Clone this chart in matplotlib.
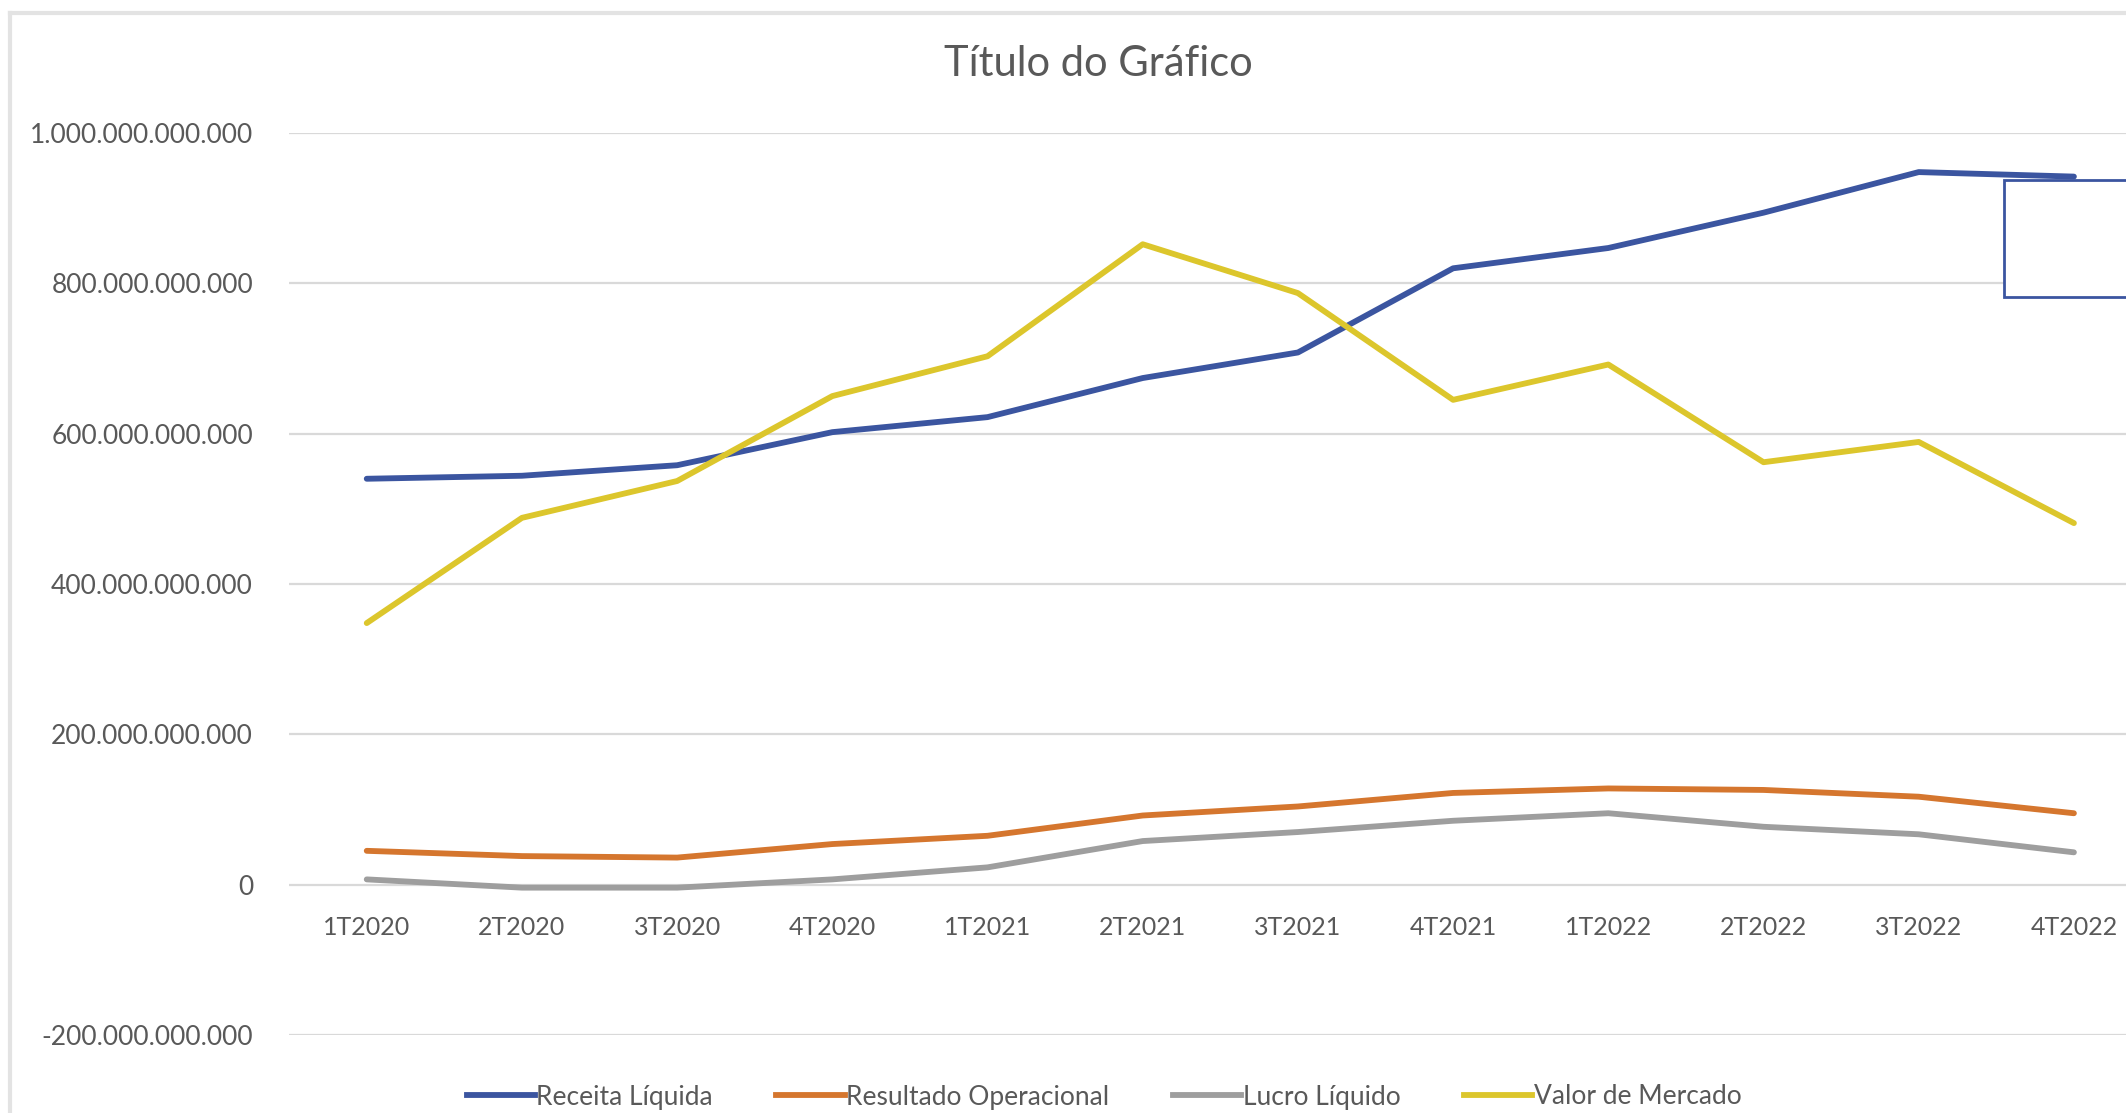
import matplotlib.pyplot as plt
import matplotlib.transforms as mtransforms
from matplotlib.patches import Rectangle
from matplotlib.lines import Line2D

plt.rcParams['font.family'] = ['Lato', 'DejaVu Sans']

# Dados (em bilhões)
trimestres = ["1T2020", "2T2020", "3T2020", "4T2020", "1T2021", "2T2021",
              "3T2021", "4T2021", "1T2022", "2T2022", "3T2022", "4T2022"]
receita_liquida = [540, 544, 558, 602, 622, 674, 708, 820, 847, 894, 948, 942]
resultado_operacional = [45, 38, 36, 54, 65, 92, 104, 122, 128, 126, 117, 95]
lucro_liquido = [7, -4, -4, 7, 23, 58, 70, 85, 95, 77, 67, 43]
valor_mercado = [348, 488, 537, 650, 703, 852, 787, 645, 692, 562, 589, 481]

series = [
    ("Receita Líquida", receita_liquida, "#3B55A0"),
    ("Resultado Operacional", resultado_operacional, "#D5762E"),
    ("Lucro Líquido", lucro_liquido, "#9E9E9E"),
    ("Valor de Mercado", valor_mercado, "#DCC62C"),
]

fig = plt.figure(figsize=(21.26, 11.13), dpi=100)
ax = fig.add_axes([0.136, 0.0701, 0.876, 0.8104])

x = list(range(len(trimestres)))
for nome, valores, cor in series:
    ax.plot(x, [v * 1e9 for v in valores], color=cor, linewidth=4.2,
            solid_capstyle='round', label=nome, zorder=3)

ax.set_xlim(-0.5, len(trimestres) - 0.5)
ax.set_ylim(-200e9, 1000e9)
yticks = [-200e9, 0, 200e9, 400e9, 600e9, 800e9, 1000e9]
ax.set_yticks(yticks)
ax.set_yticklabels([f"{v:,.0f}".replace(",", ".") for v in yticks])
ax.set_xticks(x)
ax.set_xticklabels(trimestres)
ax.tick_params(axis='both', length=0, labelsize=18, labelcolor="#595959")
ax.tick_params(axis='y', labelsize=19, pad=26)
ax.tick_params(axis='x', pad=23)
ax.grid(axis='y', color="#D9D9D9", linewidth=1.6, zorder=0)
for s in ax.spines.values():
    s.set_visible(False)

# rótulos do eixo x logo abaixo da linha do zero
subir = mtransforms.ScaledTranslation(0, 151 / 100, fig.dpi_scale_trans)
for lbl in ax.get_xticklabels():
    lbl.set_transform(lbl.get_transform() + subir)

fig.text(1098 / 2126, 1 - 64 / 1113, "Título do Gráfico", ha='center', va='center',
         fontsize=30, color="#595959")

handles = [Line2D([0], [0], color=c, linewidth=4.2) for _, _, c in series]
fig.legend(handles, [n for n, _, _ in series], loc='center',
           bbox_to_anchor=(1104 / 2126, 1 - 1097 / 1113), ncol=4, frameon=False,
           fontsize=19, labelcolor="#595959", handlelength=2.6, handletextpad=0.05,
           columnspacing=2.4)

# borda do gráfico
fig.add_artist(Line2D([10 / 2126, 1], [1 - 13 / 1113, 1 - 13 / 1113],
                      transform=fig.transFigure, color="#E3E3E3", linewidth=3))
fig.add_artist(Line2D([10 / 2126, 10 / 2126], [0, 1 - 13 / 1113],
                      transform=fig.transFigure, color="#E3E3E3", linewidth=3))

# caixa azul no canto superior direito
fig.add_artist(Rectangle((2004 / 2126, 1 - 297 / 1113), 0.1, 117 / 1113,
                         transform=fig.transFigure, facecolor="white",
                         edgecolor="#3B55A0", linewidth=2, zorder=5))

fig.savefig("out.png", dpi=100)
